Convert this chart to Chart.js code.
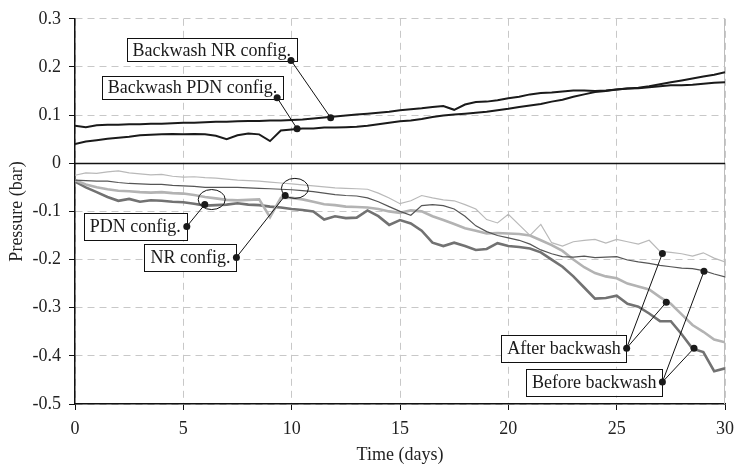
<!DOCTYPE html>
<html>
<head>
<meta charset="utf-8">
<script src="https://cdn.jsdelivr.net/npm/chart.js@4"></script>
<style>
  html, body { margin: 0; padding: 0; background: #fff; }
  #wrap { width: 742px; height: 469px; }
</style>
</head>
<body>
<div id="wrap"><canvas id="chart" width="742" height="469"></canvas></div>
<script>
// time axis (days) shared by every series
const days = [0, 0.5, 1, 1.5, 2, 2.5, 3, 3.5, 4, 4.5, 5, 5.5, 6, 6.5, 7, 7.5, 8, 8.5, 9, 9.5,
  10, 10.5, 11, 11.5, 12, 12.5, 13, 13.5, 14, 14.5, 15, 15.5, 16, 16.5, 17, 17.5, 18, 18.5, 19, 19.5,
  20, 20.5, 21, 21.5, 22, 22.5, 23, 23.5, 24, 24.5, 25, 25.5, 26, 26.5, 27, 27.5, 28, 28.5, 29, 29.5, 30];

// backwash pressures (bar)
const backwashNR = [0.078, 0.075, 0.079, 0.080, 0.080, 0.081, 0.081, 0.082, 0.082, 0.083,
  0.084, 0.084, 0.085, 0.086, 0.086, 0.087, 0.088, 0.088, 0.089, 0.089,
  0.090, 0.091, 0.093, 0.095, 0.097, 0.099, 0.101, 0.103, 0.105, 0.107,
  0.110, 0.112, 0.114, 0.117, 0.119, 0.111, 0.122, 0.127, 0.128, 0.131,
  0.135, 0.138, 0.143, 0.146, 0.147, 0.149, 0.151, 0.151, 0.150, 0.151,
  0.153, 0.155, 0.156, 0.158, 0.160, 0.162, 0.162, 0.163, 0.165, 0.167,
  0.168];
const backwashPDN = [0.040, 0.045, 0.048, 0.051, 0.053, 0.055, 0.058, 0.059, 0.060, 0.061,
  0.060, 0.061, 0.060, 0.057, 0.050, 0.058, 0.062, 0.060, 0.046, 0.068,
  0.070, 0.072, 0.072, 0.074, 0.074, 0.075, 0.076, 0.078, 0.081, 0.084,
  0.087, 0.089, 0.092, 0.096, 0.099, 0.101, 0.103, 0.105, 0.107, 0.110,
  0.113, 0.117, 0.120, 0.123, 0.128, 0.132, 0.138, 0.143, 0.148, 0.150,
  0.153, 0.155, 0.157, 0.160, 0.164, 0.168, 0.172, 0.176, 0.180, 0.184,
  0.189];

// filtration pressures (bar)
const nrAfter = [-0.025, -0.020, -0.021, -0.018, -0.016, -0.020, -0.022, -0.024, -0.023, -0.027,
  -0.029, -0.028, -0.030, -0.031, -0.033, -0.035, -0.036, -0.037, -0.039, -0.041,
  -0.043, -0.045, -0.047, -0.049, -0.051, -0.052, -0.053, -0.054, -0.062, -0.072,
  -0.084, -0.078, -0.067, -0.072, -0.076, -0.078, -0.086, -0.095, -0.117, -0.124,
  -0.106, -0.128, -0.150, -0.127, -0.165, -0.172, -0.163, -0.160, -0.158, -0.166,
  -0.158, -0.163, -0.168, -0.160, -0.183, -0.185, -0.188, -0.193, -0.186, -0.197,
  -0.205];
const nrBefore = [-0.035, -0.036, -0.037, -0.037, -0.040, -0.042, -0.043, -0.044, -0.044, -0.046,
  -0.047, -0.048, -0.050, -0.050, -0.050, -0.050, -0.051, -0.052, -0.053, -0.054,
  -0.055, -0.057, -0.059, -0.062, -0.065, -0.067, -0.068, -0.072, -0.080, -0.090,
  -0.100, -0.108, -0.088, -0.086, -0.088, -0.095, -0.110, -0.130, -0.142, -0.150,
  -0.155, -0.160, -0.168, -0.180, -0.188, -0.194, -0.195, -0.193, -0.196, -0.195,
  -0.194, -0.201, -0.205, -0.208, -0.212, -0.215, -0.218, -0.219, -0.223, -0.230,
  -0.236];
const pdnAfter = [-0.035, -0.044, -0.050, -0.054, -0.057, -0.058, -0.060, -0.061, -0.060, -0.062,
  -0.063, -0.066, -0.070, -0.073, -0.076, -0.077, -0.076, -0.075, -0.112, -0.072,
  -0.072, -0.075, -0.080, -0.085, -0.087, -0.090, -0.091, -0.092, -0.095, -0.100,
  -0.103, -0.098, -0.100, -0.110, -0.118, -0.126, -0.135, -0.140, -0.146, -0.145,
  -0.146, -0.147, -0.150, -0.160, -0.170, -0.182, -0.200, -0.216, -0.228, -0.235,
  -0.239, -0.250, -0.256, -0.262, -0.278, -0.292, -0.314, -0.336, -0.350, -0.366,
  -0.372];
const pdnBefore = [-0.038, -0.050, -0.060, -0.070, -0.078, -0.074, -0.080, -0.077, -0.078, -0.080,
  -0.081, -0.084, -0.088, -0.087, -0.086, -0.083, -0.086, -0.087, -0.090, -0.092,
  -0.095, -0.097, -0.100, -0.117, -0.110, -0.114, -0.113, -0.098, -0.110, -0.128,
  -0.118, -0.125, -0.140, -0.165, -0.172, -0.165, -0.172, -0.180, -0.178, -0.166,
  -0.172, -0.174, -0.177, -0.185, -0.200, -0.215, -0.235, -0.258, -0.281, -0.280,
  -0.275, -0.292, -0.298, -0.312, -0.328, -0.328, -0.355, -0.385, -0.392, -0.432,
  -0.426];

// callout labels: box anchor and pointed points in data units (day, bar)
const callouts = [
  { text: 'Backwash NR config.', at: [9.97, 0.2136], to: [[11.8, 0.0945]], corner: true },
  { text: 'Backwash PDN config.', at: [9.33, 0.1359], to: [[10.25, 0.0717]], corner: true },
  { text: 'PDN config.', at: [5.16, -0.1313], to: [[5.99, -0.0857]], ring: [6.31, -0.0754] },
  { text: 'NR config.', at: [7.45, -0.1955], to: [[9.7, -0.067]], ring: [10.15, -0.0522] },
  { text: 'After backwash', at: [25.46, -0.384], to: [[27.11, -0.1873], [27.29, -0.2888]] },
  { text: 'Before backwash', at: [27.11, -0.4545], to: [[29.03, -0.2245], [28.57, -0.384]] }
];

const FONT = '"Liberation Serif", "Times New Roman", serif';

function pts(vals) {
  return vals.map((v, i) => ({ x: days[i], y: v }));
}

const decor = {
  id: 'decor',
  beforeDatasetsDraw(chart) {
    const { ctx, chartArea: a, scales: { x, y } } = chart;
    ctx.save();
    // right frame edge
    ctx.strokeStyle = '#bdbdbd';
    ctx.lineWidth = 1;
    ctx.beginPath();
    ctx.moveTo(a.right - 0.5, a.top);
    ctx.lineTo(a.right - 0.5, a.bottom);
    ctx.stroke();
    // zero line
    const y0 = Math.round(y.getPixelForValue(0)) + 0.5;
    ctx.strokeStyle = '#111';
    ctx.lineWidth = 1.5;
    ctx.beginPath();
    ctx.moveTo(a.left, y0);
    ctx.lineTo(a.right, y0);
    ctx.stroke();
    ctx.restore();
  },
  afterDatasetsDraw(chart) {
    const { ctx, scales: { x, y } } = chart;
    const P = d => [x.getPixelForValue(d[0]), y.getPixelForValue(d[1])];
    ctx.save();
    ctx.font = '18px ' + FONT;
    ctx.strokeStyle = '#111';
    ctx.fillStyle = '#111';
    ctx.lineWidth = 1;
    callouts.forEach(c => {
      const [ax, ay] = P(c.at);
      if (c.ring) {
        const [rx, ry] = P(c.ring);
        ctx.beginPath();
        ctx.ellipse(rx, ry, 13.5, 10, 0, 0, Math.PI * 2);
        ctx.stroke();
      }
      c.to.forEach(t => {
        const [tx, ty] = P(t);
        ctx.beginPath();
        ctx.moveTo(ax, ay);
        ctx.lineTo(tx, ty);
        ctx.stroke();
      });
      const w = ctx.measureText(c.text).width + 12;
      const h = c.corner ? 23 : 27;
      const bx = c.corner ? ax + 6 - w : ax - w;
      const by = c.corner ? ay + 1 - h : ay - h / 2;
      ctx.fillStyle = '#fff';
      ctx.fillRect(bx, by, w, h);
      ctx.strokeRect(Math.round(bx) + 0.5, Math.round(by) + 0.5, Math.round(w), Math.round(h));
      ctx.fillStyle = '#1a1a1a';
      ctx.textAlign = 'center';
      ctx.textBaseline = 'middle';
      ctx.fillText(c.text, bx + w / 2, by + h / 2 + 1);
      [[ax, ay]].concat(c.to.map(P)).forEach(([dx, dy]) => {
        ctx.beginPath();
        ctx.arc(dx, dy, 3.5, 0, Math.PI * 2);
        ctx.fill();
      });
    });
    ctx.restore();
  }
};

const line = (label, data, color, width) => ({
  label, data: pts(data), borderColor: color, borderWidth: width,
  pointRadius: 0, tension: 0, fill: false
});

new Chart(document.getElementById('chart'), {
  type: 'line',
  data: {
    datasets: [
      line('Backwash NR config.', backwashNR, '#1a1a1a', 2),
      line('Backwash PDN config.', backwashPDN, '#1a1a1a', 2),
      line('NR config. after backwash', nrAfter, '#b9b9b9', 1.2),
      line('NR config. before backwash', nrBefore, '#555555', 1.2),
      line('PDN config. after backwash', pdnAfter, '#b3b3b3', 2.6),
      line('PDN config. before backwash', pdnBefore, '#727272', 2.6)
    ]
  },
  options: {
    responsive: false,
    animation: false,
    events: [],
    layout: { padding: { top: 18, right: 12, left: 0, bottom: 0 } },
    plugins: { legend: { display: false }, tooltip: { enabled: false } },
    scales: {
      x: {
        type: 'linear', min: 0, max: 30,
        afterFit: s => { s.height = 65; },
        ticks: { stepSize: 5, color: '#222', padding: 8, font: { family: FONT, size: 18 } },
        grid: { color: '#c8c8c8', lineWidth: 1, tickLength: 6, tickColor: '#111', tickBorderDash: [] },
        border: { color: '#111', width: 1.5, dash: [7, 5] },
        title: { display: true, text: 'Time (days)', color: '#222',
          font: { family: FONT, size: 18, lineHeight: 1.2 }, padding: { top: 0, bottom: 3 } }
      },
      y: {
        min: -0.5, max: 0.3,
        afterFit: s => { s.width = 75; },
        ticks: { stepSize: 0.1, color: '#222', padding: 8, font: { family: FONT, size: 18 },
          callback: v => (Math.abs(v) < 1e-9 ? '0' : String(Math.round(v * 10) / 10)) },
        grid: { color: '#c8c8c8', lineWidth: 1, tickLength: 6, tickColor: '#111', tickBorderDash: [] },
        border: { color: '#111', width: 1.5, dash: [7, 5] },
        title: { display: true, text: 'Pressure (bar)', color: '#222',
          font: { family: FONT, size: 18, lineHeight: 1.2 }, padding: { top: 6, bottom: 0 } }
      }
    }
  },
  plugins: [decor]
});
</script>
</body>
</html>
